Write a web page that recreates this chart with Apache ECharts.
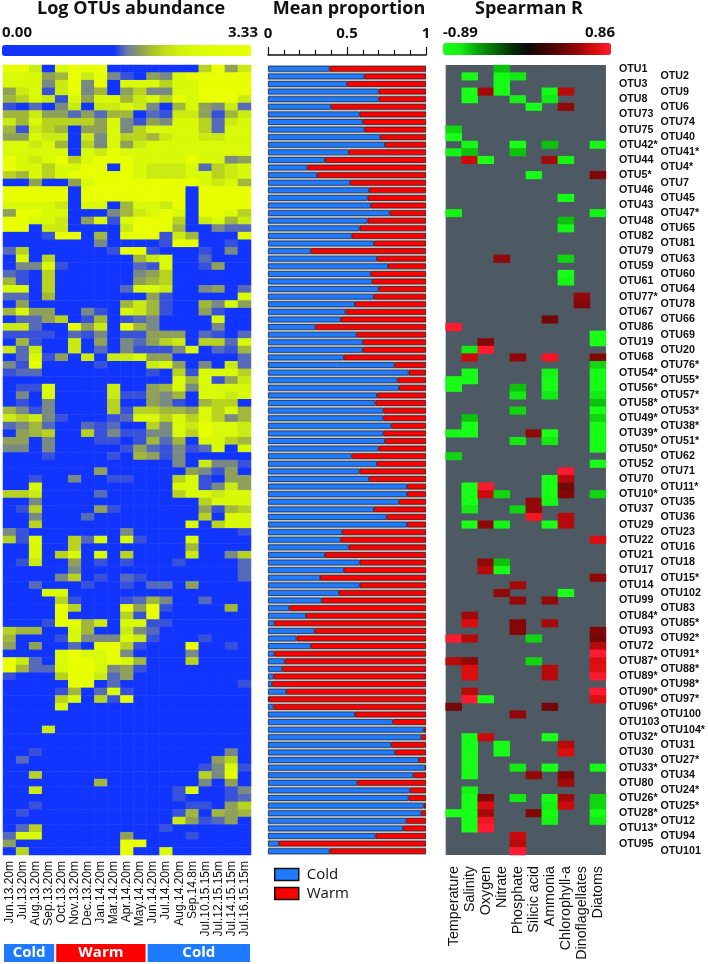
<!DOCTYPE html>
<html>
<head>
<meta charset="utf-8">
<style>
  html, body { margin: 0; padding: 0; background: #fff; }
  #main { width: 708px; height: 964px; }
</style>
<script src="https://cdn.jsdelivr.net/npm/echarts@6/dist/echarts.min.js"></script>
</head>
<body>
<div id="main"></div>
<script>
const samples = ['Jun.13.20m','Jul.13.20m','Aug.13.20m','Sep.13.20m','Oct.13.20m','Nov.13.20m','Dec.13.20m','Jan.14.20m','Mar.14.20m','Apr.14.20m','May.14.20m','Jun.14.20m','Jul.14.20m','Aug.14.20m','Sep.14.8m','Jul.10.15.15m','Jul.12.15.15m','Jul.14.15.15m','Jul.16.15.15m']
const otus = ['OTU1','OTU2','OTU3','OTU9','OTU8','OTU6','OTU73','OTU74','OTU75','OTU40','OTU42*','OTU41*','OTU44','OTU4*','OTU5*','OTU7','OTU46','OTU45','OTU43','OTU47*','OTU48','OTU65','OTU82','OTU81','OTU79','OTU63','OTU59','OTU60','OTU61','OTU64','OTU77*','OTU78','OTU67','OTU66','OTU86','OTU69','OTU19','OTU20','OTU68','OTU76*','OTU54*','OTU55*','OTU56*','OTU57*','OTU58*','OTU53*','OTU49*','OTU38*','OTU39*','OTU51*','OTU50*','OTU62','OTU52','OTU71','OTU70','OTU11*','OTU10*','OTU35','OTU37','OTU36','OTU29','OTU23','OTU22','OTU16','OTU21','OTU18','OTU17','OTU15*','OTU14','OTU102','OTU99','OTU83','OTU84*','OTU85*','OTU93','OTU92*','OTU72','OTU91*','OTU87*','OTU88*','OTU89*','OTU98*','OTU90*','OTU97*','OTU96*','OTU100','OTU103','OTU104*','OTU32*','OTU31','OTU30','OTU27*','OTU33*','OTU34','OTU80','OTU24*','OTU26*','OTU25*','OTU28*','OTU12','OTU13*','OTU94','OTU95','OTU101']
const factors = ['Temperature','Salinity','Oxygen','Nitrate','Phosphate','Silicic acid','Ammonia','Chlorophyll-a','Dinoflagellates','Diatoms']
const seasonNames = ['Cold','Warm','Cold']
const seasonSpans = [4,7,8]

const levelValues = [0,1.57,1.63,1.75,1.86,1.96,2.11,2.30,2.60,3.33]
const abundanceRows = [
  [9,9,7,0,8,9,9,9,0,0,0,0,0,0,0,6,9,4,7],
  [8,8,8,4,5,9,7,9,3,1,0,4,3,8,9,9,9,9,9],
  [8,8,8,3,7,9,3,9,0,8,8,8,6,8,8,9,9,9,9],
  [4,7,8,1,7,9,3,5,0,4,6,3,3,8,8,9,9,9,9],
  [5,6,8,7,1,8,4,8,8,5,7,8,6,9,8,9,9,9,7],
  [1,0,2,0,3,7,0,7,7,8,7,3,0,5,8,4,3,7,2],
  [5,5,7,4,4,2,4,2,5,5,0,2,1,7,7,4,1,5,7],
  [7,5,8,6,6,6,6,4,8,3,1,4,3,8,8,6,2,7,8],
  [5,1,7,6,5,0,4,4,8,3,6,8,8,8,8,6,2,8,8],
  [4,4,8,7,7,0,7,3,8,6,6,5,7,8,8,7,7,8,8],
  [8,8,7,8,5,0,6,3,8,4,7,8,8,8,8,8,8,8,8],
  [8,8,8,8,8,0,8,7,9,8,8,8,8,8,8,8,8,8,8],
  [9,8,7,8,9,6,8,9,9,9,8,8,8,8,9,8,8,3,4],
  [9,8,8,6,8,8,9,9,0,9,8,7,7,7,8,2,6,7,8],
  [6,5,8,6,8,9,9,9,9,9,8,7,7,7,8,8,6,7,8],
  [0,0,4,0,0,4,8,9,9,9,9,9,9,9,9,8,7,8,5],
  [9,9,9,9,9,0,9,9,9,9,9,9,9,9,0,9,9,9,9],
  [9,9,9,9,9,0,9,9,9,9,9,9,9,9,0,9,9,9,9],
  [8,8,8,8,7,0,8,8,0,5,8,8,7,9,0,9,9,9,9],
  [4,9,9,8,8,0,0,0,3,5,7,8,9,8,0,9,9,8,6],
  [9,9,8,8,7,0,4,8,1,8,9,9,9,6,0,7,8,5,7],
  [9,9,0,7,7,0,0,0,0,7,9,9,9,5,0,0,3,2,2],
  [0,0,0,1,9,9,0,5,0,9,9,9,1,7,5,0,0,0,9],
  [0,0,0,0,0,0,0,3,0,0,0,0,1,9,9,0,0,1,0],
  [2,6,0,0,0,0,0,0,1,9,9,1,0,0,0,1,0,3,0],
  [0,8,0,6,0,0,0,0,0,0,5,7,8,0,0,2,0,0,0],
  [0,3,3,8,1,0,0,0,0,0,2,1,8,0,0,1,4,0,0],
  [2,1,0,6,0,0,0,0,0,0,3,4,6,0,0,0,0,0,0],
  [5,1,0,6,0,0,0,0,0,0,4,5,6,0,0,0,0,0,0],
  [8,8,0,6,0,0,0,0,0,2,8,8,7,0,0,3,4,0,2],
  [2,2,0,5,0,0,0,0,0,0,0,4,1,0,0,0,0,0,8],
  [0,4,0,0,0,0,0,0,0,5,7,5,1,0,0,5,3,8,4],
  [5,8,4,4,0,0,3,1,0,8,7,5,1,0,0,4,1,0,0],
  [0,2,2,4,6,0,1,5,0,1,2,3,0,0,0,0,8,0,0],
  [7,7,2,0,0,9,4,7,0,9,5,3,0,0,0,0,3,0,0],
  [1,1,1,1,0,2,1,3,0,1,1,4,4,4,0,2,1,0,2],
  [0,5,1,0,0,7,0,4,0,3,2,4,6,7,0,6,6,2,8],
  [7,2,7,0,0,7,0,2,0,3,1,1,1,3,8,0,2,1,5],
  [0,2,8,1,4,0,7,0,7,7,8,4,4,0,0,0,0,0,2],
  [3,1,9,0,0,0,0,1,0,0,0,7,8,4,0,3,0,7,2],
  [1,2,2,0,0,0,0,0,0,0,0,1,0,6,1,8,8,8,6],
  [0,0,0,0,0,0,0,0,0,0,0,0,0,8,5,8,1,4,7],
  [0,1,1,8,0,0,0,0,7,0,0,4,5,8,3,8,8,8,8],
  [0,3,0,8,0,0,0,0,7,1,1,4,3,5,0,8,8,7,8],
  [0,1,0,3,0,0,0,0,6,0,0,4,3,1,0,5,6,6,0],
  [5,3,1,3,0,0,0,0,6,1,6,6,5,5,4,8,6,8,5],
  [7,6,7,3,1,0,0,0,1,2,8,8,6,8,6,8,6,3,5],
  [2,3,5,2,0,0,2,1,2,0,0,6,3,8,7,9,8,8,7],
  [0,4,5,6,0,0,6,1,3,1,1,3,3,8,6,9,8,8,7],
  [4,4,0,3,0,0,0,1,1,0,1,5,2,5,0,8,8,6,5],
  [3,3,0,3,0,0,0,0,0,1,4,2,1,3,1,2,8,0,8],
  [0,0,0,1,0,0,0,0,1,0,5,4,1,3,0,0,0,0,0],
  [0,0,0,0,0,0,0,0,0,0,0,0,0,3,0,7,3,3,1],
  [0,0,0,0,0,0,0,4,0,0,0,0,0,0,4,3,1,4,0],
  [0,0,1,0,0,3,0,0,1,1,0,0,0,6,8,1,0,4,4],
  [0,0,8,0,0,0,0,0,0,0,0,0,0,8,8,1,3,7,4],
  [6,6,7,0,0,0,0,2,0,0,0,0,0,6,8,8,7,8,8],
  [0,0,3,0,0,0,0,0,0,0,0,0,0,0,0,6,8,8,8],
  [0,1,6,0,0,0,0,4,1,0,0,0,0,0,0,4,1,5,6],
  [0,0,3,0,0,0,2,0,0,0,0,0,0,0,0,6,0,8,8],
  [0,0,6,0,0,0,0,0,0,0,0,0,0,0,8,0,6,8,8],
  [3,1,0,0,0,0,0,0,0,3,0,0,0,0,0,0,0,0,1],
  [6,1,8,0,0,6,2,8,0,8,1,0,0,0,8,0,0,0,0],
  [0,0,8,0,0,6,0,0,0,0,0,0,0,0,5,0,0,0,0],
  [0,0,8,0,6,8,0,8,0,6,0,0,0,0,7,0,0,3,6],
  [0,1,7,0,0,4,0,1,0,1,0,0,0,1,0,0,0,0,2],
  [0,0,0,0,0,3,0,0,0,0,0,0,0,0,0,0,0,0,2],
  [0,0,0,0,3,6,0,1,0,2,1,0,0,0,0,0,0,0,2],
  [0,0,2,0,0,0,1,0,0,1,0,2,2,0,4,0,0,0,0],
  [0,0,0,8,8,0,0,0,0,0,0,0,0,0,0,0,0,0,0],
  [0,0,0,0,6,1,0,0,0,1,2,5,3,0,0,2,0,0,0],
  [0,0,0,0,9,6,0,0,0,9,4,9,1,0,0,0,0,5,0],
  [0,0,0,0,9,0,0,0,0,6,1,9,0,0,0,0,0,0,0],
  [0,0,0,1,9,9,5,7,0,8,8,1,1,0,0,0,0,0,0],
  [6,5,5,0,0,8,5,0,0,7,3,2,0,0,0,0,0,0,0],
  [5,0,0,0,1,8,3,3,3,8,7,1,0,0,0,1,0,0,0],
  [4,0,4,0,0,2,0,9,9,6,1,0,0,0,9,0,0,1,0],
  [0,0,0,0,8,9,8,8,9,3,0,0,0,0,3,0,0,0,0],
  [9,7,2,0,8,9,9,8,9,8,5,0,0,0,6,0,0,0,0],
  [9,5,2,2,8,9,9,8,3,4,1,0,0,0,0,0,0,0,0],
  [1,0,0,0,6,9,9,7,2,4,0,0,0,0,0,0,0,0,0],
  [0,0,0,0,0,9,9,0,2,0,0,0,0,0,0,0,0,0,1],
  [0,0,0,0,1,5,0,2,8,1,0,0,0,0,0,0,0,0,0],
  [0,0,0,0,6,8,0,6,1,9,0,0,0,0,0,0,0,0,0],
  [0,0,0,0,8,0,0,0,0,0,0,0,0,0,0,0,0,0,0],
  [0,0,0,0,0,0,0,0,0,0,0,0,0,0,0,0,0,0,0],
  [0,0,0,0,0,0,0,0,0,0,0,0,0,0,0,0,0,0,0],
  [0,0,0,7,0,0,0,0,0,0,0,0,0,0,0,0,0,0,0],
  [0,0,0,0,0,0,0,0,0,0,0,0,0,0,0,0,0,0,0],
  [0,0,0,0,0,0,0,0,0,0,0,0,0,0,0,0,0,0,0],
  [0,0,1,0,0,0,0,0,0,0,0,0,0,0,0,0,0,3,0],
  [0,2,0,0,0,0,0,0,0,0,0,0,0,0,0,0,4,6,0],
  [0,0,0,0,0,0,0,0,0,0,0,0,0,0,0,1,3,8,1],
  [0,0,6,0,0,0,0,0,0,0,0,0,0,0,0,6,3,9,0],
  [0,0,0,0,0,0,0,5,0,0,0,0,0,0,0,3,0,4,0],
  [0,0,7,0,0,0,0,0,0,0,0,0,0,1,8,0,0,1,3],
  [0,0,0,0,0,0,0,0,0,0,0,0,0,1,0,0,0,1,2],
  [0,0,1,0,0,0,0,0,0,0,0,0,0,0,1,1,0,4,6],
  [0,1,0,0,0,0,0,0,0,0,0,0,0,1,5,0,5,4,5],
  [0,0,0,0,0,0,0,0,0,0,0,0,0,7,4,1,2,4,0],
  [0,2,6,0,0,0,0,0,0,0,0,0,1,0,0,0,0,0,0],
  [2,8,8,0,0,0,0,0,0,4,0,0,0,0,1,0,0,0,0],
  [4,0,0,0,0,0,0,0,0,9,9,0,0,0,0,0,0,0,0],
  [0,6,0,0,0,0,0,0,0,9,0,0,8,0,0,0,0,0,0]
]

const coldShare = [39,61,50,70,70,40,58,60,61,71,74,51,36,25,31,52,64,63,65,77,63,58,53,67,27,69,76,65,66,70,67,
  55,49,46,30,56,60,60,48,80,89,82,83,69,68,73,73,78,73,74,70,53,69,58,64,88,88,83,67,75,88,47,46,51,36,58,48,33,58,45,
  34,13.5,24,4,29.5,18,27,4,10.5,9,3.5,2.5,11.5,0.5,3.5,55,79,98.5,97,78,80.5,95.5,99.5,92,56.5,90,89,98.5,97,87.5,85.5,68,7,39]
const warmShare = [61,39,50,30,30,60,42,40,39,29,26,49,64,75,69,48,36,37,35,23,37,42,47,33,73,31,24,35,34,30,33,
  45,51,54,70,44,40,40,52,20,11,18,17,31,32,27,27,22,27,26,30,47,31,42,36,12,12,17,33,25,12,53,54,49,64,42,52,67,42,55,
  66,86.5,76,96,70.5,82,73,96,89.5,91,96.5,97.5,88.5,99.5,96.5,45,21,1.5,3,22,19.5,4.5,0.5,8,43.5,10,11,1.5,3,12.5,14.5,32,93,61]

// [row number, spearman r] of the coloured cells, one list per factor
const temperatureR = [[9,-.65],[10,-.89],[12,-.75],[20,-.75],[35,.86],[42,-.85],[43,-.85],[49,-.8],[52,-.65],[76,.86],[79,.6],[85,.4],[99,-.89]]
const salinityR = [[2,-.85],[4,-.89],[5,-.89],[11,-.8],[12,-.6],[13,.65],[38,-.7],[39,.65],[41,-.85],[42,-.85],[47,-.6],[48,-.89],[49,-.89],[56,-.89],[57,-.89],[58,-.89],[59,-.7],[61,-.89],[73,.55],[74,.7],[76,.6],[79,.5],[80,.7],[81,.7],[83,.6],[84,.86],[89,-.87],[90,-.87],[91,-.87],[92,-.87],[93,-.87],[94,-.87],[96,-.75],[97,-.89],[98,-.89],[99,-.89],[100,-.89],[101,-.89]]
const oxygenR = [[4,.55],[13,-.89],[37,.45],[38,.86],[56,.85],[57,.65],[61,.5],[66,.5],[67,.6],[84,-.89],[89,.65],[97,.45],[98,.7],[99,.55],[100,.8],[101,.86]]
const nitrateR = [[1,-.6],[2,-.85],[3,-.85],[4,-.85],[26,.5],[57,-.65],[61,-.75],[66,-.6],[67,-.85],[70,.5],[90,-.85],[91,-.85]]
const phosphateR = [[2,-.7],[5,-.75],[11,-.89],[12,-.6],[39,.5],[43,-.6],[44,-.7],[46,-.65],[50,-.7],[59,-.65],[69,.55],[71,.5],[74,.45],[75,.45],[86,.5],[93,-.7],[97,-.7],[102,.65],[103,.6],[104,.86]]
const silicicR = [[6,-.89],[15,-.85],[49,.5],[58,.5],[59,.5],[60,.8],[76,-.65],[79,-.65],[94,.5],[99,.45]]
const ammoniaR = [[4,-.85],[5,-.7],[11,-.6],[13,.55],[34,.4],[39,.8],[41,-.75],[42,-.87],[43,-.87],[44,-.7],[49,-.89],[50,-.7],[55,-.87],[56,-.89],[57,-.89],[58,-.8],[61,-.89],[71,.5],[74,.55],[80,.6],[81,.6],[85,.4],[89,-.89],[93,-.89],[97,-.89],[98,-.75],[99,-.85],[100,-.75]]
const chlorophyllR = [[4,.6],[6,.5],[13,-.75],[18,-.85],[21,-.6],[22,-.8],[26,-.65],[28,-.89],[29,-.8],[54,.85],[55,.6],[56,.4],[57,.45],[60,.6],[61,.6],[70,-.89],[90,.6],[91,.7],[94,.45],[95,.55],[97,.55],[98,.65]]
const dinoflagellatesR = [[31,.5],[32,.45]]
const diatomsR = [[11,-.8],[15,.45],[20,-.75],[36,-.89],[37,-.89],[39,.45],[40,-.65],[41,-.87],[42,-.87],[43,-.87],[44,-.7],[45,-.6],[46,-.89],[47,-.65],[48,-.87],[49,-.87],[50,-.87],[51,-.87],[53,-.87],[57,-.65],[63,.7],[68,.5],[75,.45],[76,.4],[77,.6],[78,.86],[79,.7],[80,.72],[81,.85],[83,.86],[84,.7],[93,-.85],[97,-.65],[98,-.65],[99,-.85],[100,-.7]]
const factorCells = [temperatureR,salinityR,oxygenR,nitrateR,phosphateR,silicicR,ammoniaR,chlorophyllR,dinoflagellatesR,diatomsR]

const abundanceData = []
abundanceRows.forEach((row, y) => {
  row.forEach((level, x) => {
    abundanceData.push([x, y, levelValues[level]])
  })
})
const spearmanData = []
factorCells.forEach((cells, x) => {
  cells.forEach(([row, r]) => {
    spearmanData.push([x, row - 1, r])
  })
})

const titleFont = '"Open Sans", sans-serif'
const labelFont = '"Liberation Sans", Arial, sans-serif'
const seasonColor = {Cold: '#1e7bff', Warm: '#ff0000'}

const headline = (text, x) => ({
  text,
  left: x,
  top: 0,
  padding: 0,
  textAlign: 'center',
  textStyle: {fontFamily: titleFont, fontWeight: 'bold', fontSize: 18, color: '#111'}
})
const endLabel = (text, x, align) => ({
  text,
  left: x,
  top: 25,
  padding: 0,
  textAlign: align,
  textStyle: {fontFamily: titleFont, fontWeight: 'bold', fontSize: 15, color: '#111'}
})

const chart = echarts.init(document.getElementById('main'), null, {renderer: 'canvas'})
chart.setOption({
  animation: false,
  backgroundColor: '#fff',
  title: [
    headline('Log OTUs abundance', 131),
    headline('Mean proportion', 349),
    headline('Spearman R', 529),
    endLabel('0.00', 2, 'left'),
    endLabel('3.33', 258, 'right'),
    endLabel('-0.89', 443, 'left'),
    endLabel('0.86', 615, 'right')
  ],
  legend: {
    data: ['Cold', 'Warm'],
    orient: 'vertical',
    left: 274,
    top: 867,
    padding: 0,
    icon: 'rect',
    itemWidth: 24,
    itemHeight: 12,
    itemGap: 4,
    selectedMode: false,
    itemStyle: {borderColor: '#111', borderWidth: 1.5},
    textStyle: {fontFamily: titleFont, fontSize: 15, color: '#111', padding: [0, 0, 0, 3]}
  },
  visualMap: [
    {
      type: 'continuous',
      seriesIndex: 0,
      min: 0,
      max: 3.33,
      orient: 'horizontal',
      left: 2,
      top: 45,
      padding: 0,
      itemWidth: 11,
      itemHeight: 249,
      calculable: false,
      hoverLink: false,
      text: null,
      inRange: {
        color: ['#1234ff','#1234ff','#1234ff','#1234ff','#1234ff','#1234ff','#1234ff','#1234ff','#1234ff','#1234ff','#6878a8','#8a9a60','#a8c030','#bedc18','#ccee10','#d4f808','#dafc04','#defe02','#e2ff00','#e6ff00','#e8ff00']
      }
    },
    {
      type: 'continuous',
      seriesIndex: 3,
      min: -0.89,
      max: 0.86,
      orient: 'horizontal',
      left: 443,
      top: 43,
      padding: 0,
      itemWidth: 12,
      itemHeight: 168,
      calculable: false,
      hoverLink: false,
      text: null,
      inRange: {
        color: ['#18ff18','#14f014','#0aa80a','#067006','#033503','#0a0a0a','#3a0606','#600606','#950808','#d80c0c','#ff1a30']
      }
    }
  ],
  grid: [
    {left: 3, top: 65, width: 248, height: 790},
    {left: 268, top: 65, width: 158, height: 790, show: true, backgroundColor: '#c4c4c4', borderWidth: 0},
    {left: 445.7, top: 65, width: 165.3, height: 790, show: true, backgroundColor: '#4d5a63', borderWidth: 0},
    {left: 3, top: 943, width: 248, height: 20}
  ],
  xAxis: [
    {
      gridIndex: 0,
      type: 'category',
      data: samples,
      axisLine: {show: false},
      axisTick: {show: false},
      axisLabel: {rotate: 90, interval: 0, margin: 6, fontFamily: labelFont, fontSize: 12, color: '#111'}
    },
    {
      gridIndex: 1,
      type: 'value',
      position: 'top',
      offset: 10,
      min: 0,
      max: 1,
      interval: 0.5,
      splitLine: {show: false},
      axisLine: {show: true, lineStyle: {color: '#111', width: 1.5}},
      axisTick: {show: true, length: 8, lineStyle: {color: '#111', width: 1.2}},
      minorTick: {show: true, splitNumber: 5, length: 5, lineStyle: {color: '#111', width: 1.2}},
      axisLabel: {margin: 14, fontFamily: titleFont, fontWeight: 'bold', fontSize: 15, color: '#111', hideOverlap: false}
    },
    {
      gridIndex: 2,
      type: 'category',
      data: factors,
      axisLine: {show: false},
      axisTick: {show: false},
      axisLabel: {rotate: 90, interval: 0, margin: 11, fontFamily: labelFont, fontSize: 14.3, color: '#111'}
    },
    {
      gridIndex: 3,
      type: 'value',
      min: 0,
      max: 19,
      show: false
    }
  ],
  yAxis: [
    {gridIndex: 0, type: 'category', data: otus, inverse: true, show: false},
    {gridIndex: 1, type: 'category', data: otus, inverse: true, show: false},
    {
      gridIndex: 2,
      type: 'category',
      data: otus,
      inverse: true,
      position: 'right',
      axisLine: {show: false},
      axisTick: {show: false},
      axisLabel: {
        interval: (i) => i % 2 === 0,
        margin: 13,
        align: 'left',
        padding: [0, 0, 2, 0],
        fontFamily: labelFont,
        fontWeight: 'bold',
        fontSize: 10.7,
        color: '#111'
      }
    },
    {
      gridIndex: 2,
      type: 'category',
      data: otus,
      inverse: true,
      position: 'right',
      axisLine: {show: false},
      axisTick: {show: false},
      axisLabel: {
        interval: (i) => i % 2 === 1,
        margin: 54.5,
        align: 'left',
        padding: [0, 0, 2, 0],
        fontFamily: labelFont,
        fontWeight: 'bold',
        fontSize: 10.7,
        color: '#111'
      }
    },
    {gridIndex: 3, type: 'category', data: ['season'], show: false}
  ],
  series: [
    {
      type: 'heatmap',
      name: 'Log OTUs abundance',
      xAxisIndex: 0,
      yAxisIndex: 0,
      data: abundanceData,
      emphasis: {disabled: true}
    },
    {
      type: 'bar',
      name: 'Cold',
      xAxisIndex: 1,
      yAxisIndex: 1,
      stack: 'share',
      barWidth: 5.8,
      data: coldShare.map((v) => v / 100),
      itemStyle: {color: seasonColor.Cold, borderColor: '#1c3050', borderWidth: 0.8}
    },
    {
      type: 'bar',
      name: 'Warm',
      xAxisIndex: 1,
      yAxisIndex: 1,
      stack: 'share',
      barWidth: 5.8,
      data: warmShare.map((v) => v / 100),
      itemStyle: {color: seasonColor.Warm, borderColor: '#3a1a20', borderWidth: 0.8}
    },
    {
      type: 'heatmap',
      name: 'Spearman R',
      xAxisIndex: 2,
      yAxisIndex: 2,
      data: spearmanData,
      emphasis: {disabled: true}
    },
    ...seasonNames.map((name, i) => ({
      type: 'bar',
      name: name + ' months ' + i,
      xAxisIndex: 3,
      yAxisIndex: 4,
      stack: 'season',
      barWidth: 20,
      data: [seasonSpans[i]],
      itemStyle: {color: seasonColor[name], borderColor: '#fff', borderWidth: 1},
      label: {
        show: true,
        position: 'inside',
        formatter: name,
        fontFamily: titleFont,
        fontWeight: 'bold',
        fontSize: 15,
        color: '#fff'
      }
    }))
  ]
})
</script>
</body>
</html>
